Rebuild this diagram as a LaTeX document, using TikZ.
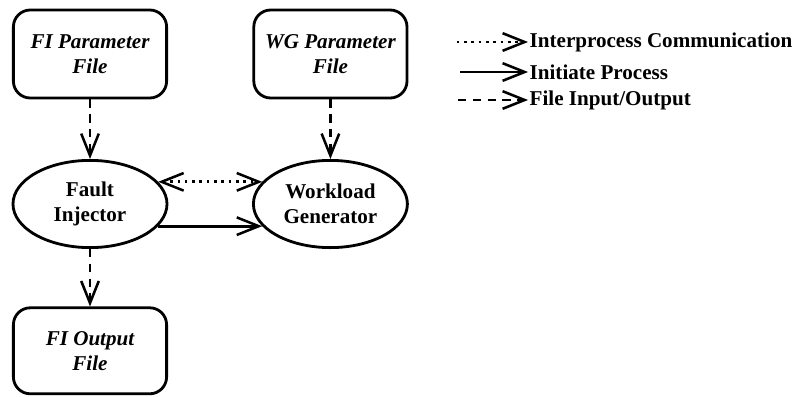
\documentclass[tikz,border=0pt]{standalone}
\usepackage{fontspec}
\setmainfont{Liberation Serif}
\usepackage{tikz}
\usetikzlibrary{
    arrows.meta,
    positioning,
    shapes.geometric
}
\tikzset{
    barb/.tip        = {Straight Barb[length=5.5mm, width=4.4mm, line width=1.8pt]},
    filebox/.style   = {rectangle, draw=black, line width=2pt, rounded corners=12pt,
                        minimum width=3.83cm, minimum height=2.2cm, align=center,
                        font=\fontsize{15}{18}\selectfont\bfseries\itshape},
    procnode/.style  = {ellipse, draw=black, line width=2pt,
                        minimum width=3.85cm, minimum height=2.18cm, align=center,
                        inner sep=0pt, font=\fontsize{15}{18}\selectfont\bfseries},
    legtext/.style   = {anchor=west, inner sep=1pt,
                        font=\fontsize{15}{18}\selectfont\bfseries}
}

\begin{document}
\begin{tikzpicture}[
    ipcArr/.style  = {barb-barb, line width=1.9pt, dash pattern=on 1.8pt off 3.4pt},
    runArr/.style  = {-barb, line width=2pt},
    fileArr/.style = {-barb, line width=1.9pt, dash pattern=on 6pt off 4.5pt}
]
\useasboundingbox (0,0) rectangle (20.15,-9.9);

% ===== Files and processes =====
\node[filebox] (fiparam) at (2.25,-1.35) {FI Parameter \\ File};
\node[filebox] (wgparam) at (8.26,-1.35) {WG Parameter \\ File};

\node[procnode] (fault) at (2.25,-5.1) {Fault \\ Injector};
\node[procnode] (work)  at (8.26,-5.1) {Workload \\ Generator};

\node[filebox, minimum height=2.15cm] (fiout) at (2.25,-8.77) {FI Output \\ File};

% ===== Connectors =====
\draw[fileArr] (fiparam.south) -- (fault.north);
\draw[fileArr] (wgparam.south) -- (work.north);
\draw[fileArr] (fault.south) -- (fiout.north);

\draw[ipcArr] (fault.18) -- (work.162);
\draw[runArr] (fault.-18) -- (work.198);

% ===== Legend =====
\node[legtext] (lipc)  at (13.2,-1.05) {Interprocess Communication};
\node[legtext] (lrun)  at (13.2,-1.8)  {Initiate Process};
\node[legtext] (lfile) at (13.2,-2.5)  {File Input/Output};

\coordinate (lipcs)  at (11.42,-1.05);
\coordinate (lruns)  at (11.5,-1.8);
\coordinate (lfiles) at (11.45,-2.5);

\draw[ipcArr, -barb] (lipcs) -- (lipc.west);
\draw[runArr] (lruns) -- (lrun.west);
\draw[fileArr] (lfiles) -- (lfile.west);

\end{tikzpicture}
\end{document}
